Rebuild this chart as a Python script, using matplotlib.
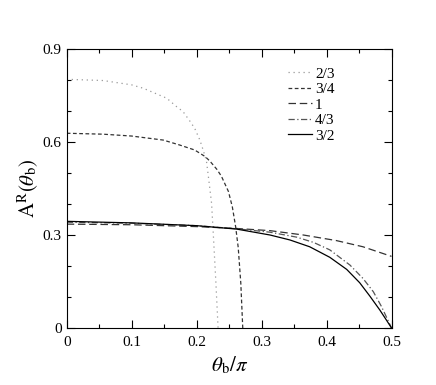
import matplotlib
matplotlib.use("Agg")
import matplotlib.pyplot as plt
from matplotlib.ticker import MultipleLocator

plt.rcParams['font.family'] = ['Liberation Serif', 'DejaVu Serif']
plt.rcParams['mathtext.fontset'] = 'stix'

labels = ['2/3', '3/4', '1', '4/3', '3/2']

x_23 = [0.0, 0.056, 0.10, 0.118, 0.136, 0.154, 0.169, 0.179, 0.190, 0.197, 0.205, 0.210, 0.215, 0.218,
        0.223, 0.2256, 0.2297, 0.233]
y_23 = [0.802, 0.798, 0.784, 0.773, 0.757, 0.741, 0.714, 0.698, 0.666, 0.644, 0.606, 0.574, 0.540, 0.490,
        0.402, 0.305, 0.144, 0.0]

x_34 = [0.0, 0.056, 0.10, 0.1486, 0.174, 0.197, 0.213, 0.2205, 0.231, 0.238, 0.249, 0.255, 0.260, 0.264,
        0.268, 0.271]
y_34 = [0.628, 0.625, 0.619, 0.606, 0.590, 0.574, 0.553, 0.538, 0.512, 0.490, 0.44, 0.39, 0.327, 0.26,
        0.144, 0.0]

x_1 = [0.0, 0.10, 0.20, 0.2615, 0.3128, 0.364, 0.415, 0.456, 0.50]
y_1 = [0.335, 0.333, 0.327, 0.321, 0.314, 0.300, 0.282, 0.262, 0.231]

x_43 = [0.0, 0.10, 0.20, 0.2615, 0.3128, 0.354, 0.380, 0.405, 0.436, 0.456, 0.472, 0.4846, 0.492, 0.50]
y_43 = [0.341, 0.338, 0.330, 0.320, 0.309, 0.293, 0.276, 0.252, 0.203, 0.160, 0.117, 0.069, 0.036, 0.0]

x_32 = [0.0, 0.10, 0.20, 0.2615, 0.3128, 0.3435, 0.374, 0.405, 0.431, 0.451, 0.4666, 0.482, 0.492, 0.50]
y_32 = [0.344, 0.339, 0.330, 0.319, 0.300, 0.284, 0.262, 0.228, 0.189, 0.146, 0.103, 0.058, 0.026, 0.0]

xticks = [0, 0.1, 0.2, 0.3, 0.4, 0.5]
xticklabels = ['0', '0.1', '0.2', '0.3', '0.4', '0.5']
yticks = [0, 0.3, 0.6, 0.9]
yticklabels = ['0', '0.3', '0.6', '0.9']

fig = plt.figure(figsize=(4.36, 3.85), dpi=100)
ax = fig.add_axes([0.153, 0.148, 0.745, 0.725])

ax.plot(x_23, y_23, color='#999999', lw=0.9, linestyle=(0, (1, 3)), label=labels[0])
ax.plot(x_34, y_34, color='#333333', lw=0.9, linestyle=(0, (3, 2)), label=labels[1])
ax.plot(x_1, y_1, color='#333333', lw=0.9, linestyle=(0, (6, 3)), label=labels[2])
ax.plot(x_43, y_43, color='#555555', lw=0.9, linestyle=(0, (5, 2, 1, 2)), label=labels[3])
ax.plot(x_32, y_32, color='black', lw=0.9, linestyle='-', label=labels[4])

ax.set_xlim(0, 0.5)
ax.set_ylim(0, 0.9)
ax.set_xticks(xticks)
ax.set_xticklabels(xticklabels)
ax.set_yticks(yticks)
ax.set_yticklabels(yticklabels)
ax.xaxis.set_minor_locator(MultipleLocator(0.05))
ax.yaxis.set_minor_locator(MultipleLocator(0.1))
ax.tick_params(which='both', direction='in', top=True, right=True, labelsize=11, width=0.8)
ax.tick_params(which='major', length=6)
ax.tick_params(axis='x', which='major', pad=6)
ax.tick_params(which='minor', length=3)
for s in ax.spines.values():
    s.set_linewidth(0.8)

ax.set_xlabel(r'$\theta_{\rm b}/\pi$', fontsize=15, labelpad=4)
ax.set_ylabel(r'$\mathrm{A}^{\mathrm{R}}(\theta_{\mathrm{b}})$', fontsize=15, labelpad=1)

ax.legend(loc='upper left', bbox_to_anchor=(0.64, 0.985), frameon=False, fontsize=11,
          handlelength=1.55, handletextpad=0.2, labelspacing=0.12)

fig.savefig('out.png', dpi=100)
